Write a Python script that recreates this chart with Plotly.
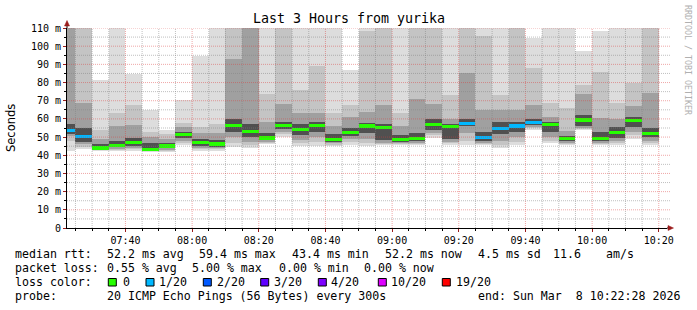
import plotly.graph_objects as go
import pandas as pd

# ---------------- data ----------------
bar_start = pd.date_range('2026-03-08 07:20:00', periods=36, freq='5min')

rtt_max = [125, 125, 81.4, 125, 84.7, 64.9, 53.9, 70.4, 94.8, 125, 125, 125, 125, 125, 125, 125, 125, 87,
           125, 125, 125, 125, 125, 125, 125, 125, 125, 125, 104.3, 125, 125, 97.4, 108.4, 125, 125, 125]
rtt_hi = [125, 125, 54, 63.4, 67.6, 53, 51.5, 58, 55.4, 57, 125, 125, 73.7, 125, 76, 89.3, 63, 67.6,
          108.4, 125, 63, 125, 125, 73, 125, 105.6, 73, 125, 87.8, 68.6, 66, 78.6, 86, 68.5, 80, 125]
rtt_q3 = [112, 68.6, 49, 56, 56.6, 50, 49, 55.5, 52, 52, 93, 118, 58.5, 68, 63, 63, 56, 61,
          64, 67.6, 56, 70.8, 68, 60, 85.4, 65, 65, 65, 67.6, 61, 53.5, 73.7, 60.3, 60, 67, 74.4]
rtt_c3 = [57, 55, 46, 48, 49.5, 46.5, 47, 53, 49, 48.5, 60, 57, 52, 58.5, 57, 58.5, 51.5, 55,
          58, 57, 51, 52, 60, 57, 60, 53, 58.5, 58.5, 60, 58.5, 50.5, 62, 53, 55.5, 61, 55]
rtt_median = [53.4, 50.2, 44.0, 45.3, 46.9, 43.4, 45.1, 51.4, 46.9, 46.2, 56.2, 52.9, 49.5, 56.5, 54.0, 56.3, 48.7, 52.4,
              56.1, 55.3, 48.8, 49.1, 56.8, 55.8, 57.7, 49.8, 54.8, 56.1, 58.1, 57.0, 49.0, 59.4, 49.4, 52.6, 59.2, 52.2]
rtt_c1 = [51.5, 47.5, 43.6, 44.3, 45.2, 43, 43.8, 49.5, 45.2, 44.8, 53, 50, 48.3, 54.5, 51, 53, 47.5, 50.5,
          52, 48.5, 47.5, 47.8, 54, 49, 56, 48, 51.5, 53, 56.8, 53, 47.8, 56, 47.8, 49.5, 55.5, 50]
rtt_q1 = [50.5, 46, 43.2, 43.7, 44.2, 42.7, 43, 48, 44, 43.8, 50, 47.5, 47.5, 53, 48.5, 50, 46.5, 49,
          49, 47, 46.8, 47, 52.5, 47.5, 52, 47, 48, 50, 55.8, 50, 47, 55, 47, 48, 53, 48]
rtt_lo = [48, 44.5, 42.9, 43.1, 43.3, 42.3, 42.3, 46.5, 43.2, 43.2, 47, 45.5, 46.8, 51.5, 46.5, 47.5, 45.8, 47.5,
          47, 46.2, 46.2, 46.3, 51, 46.5, 48, 46.2, 45.5, 47.5, 54.8, 48, 46.3, 54.5, 46.3, 46.5, 51, 46.5]
rtt_min = [42.5, 43.3, 42.5, 42.5, 42.5, 42, 41.8, 45.5, 42.5, 42.5, 44.7, 43.8, 46.2, 50.2, 45.1, 45.1, 45.1, 45.5,
           45, 45.6, 45.6, 45.6, 49.5, 45.6, 45.6, 45.6, 43.8, 45.6, 53.9, 46.6, 45.6, 53.9, 45.6, 45.6, 49, 45.6]
loss_count = [1, 1, 0, 0, 0, 0, 0, 0, 0, 0, 0, 0, 0, 0, 0, 0, 0, 0,
              0, 0, 0, 0, 0, 0, 1, 1, 1, 1, 1, 0, 0, 0, 0, 0, 0, 0]

loss_levels = ['0', '1/20', '2/20', '3/20', '4/20', '10/20', '19/20']
loss_level_counts = [0, 1, 2, 3, 4, 10, 19]
loss_level_colors = ['#26ff00', '#00b8ff', '#0059ff', '#5e00ff', '#7e00ff', '#dd00ff', '#ff0000']

title_text = 'Last 3 Hours from yurika'
y_tick_vals = [0, 10, 20, 30, 40, 50, 60, 70, 80, 90, 100, 110]
y_tick_text = ['0', '10 m', '20 m', '30 m', '40 m', '50 m', '60 m', '70 m', '80 m', '90 m', '100 m', '110 m']

stats_rtt = ['52.2 ms avg', '59.4 ms max', '43.4 ms min', '52.2 ms now', '4.5 ms sd', '11.6', 'am/s']
stats_loss = ['0.55 % avg', '5.00 % max', '0.00 % min', '0.00 % now']
probe_text = '20 ICMP Echo Pings (56 Bytes) every 300s'
end_text = 'end: Sun Mar  8 10:22:28 2026'

# ---------------- geometry helpers ----------------
W, H = 697, 310
PL, PR, PT, PB = 67, 667, 28, 228


def px(x):
    return (x - PL) / (PR - PL)


def py(y):
    return (PB - y) / (PB - PT)


MONO = 'DejaVu Sans Mono'
STEP_MS = 300000
centers = bar_start + pd.Timedelta(seconds=150)

fig = go.Figure()


def band(lo, hi, color):
    fig.add_trace(go.Bar(x=centers, base=lo, y=[h - l for h, l in zip(hi, lo)], width=STEP_MS,
                         marker=dict(color=color, line=dict(width=0)), hoverinfo='skip', showlegend=False))


band(rtt_min, rtt_max, '#dddddd')
band(rtt_lo, rtt_hi, '#c4c4c4')
band(rtt_q1, rtt_q3, '#a0a0a0')
band(rtt_c1, rtt_c3, '#505050')

# median coloured by loss
MED_THICK = 1.7
cmap = dict(zip(loss_level_counts, loss_level_colors))
fig.add_trace(go.Bar(x=centers, base=[m - MED_THICK / 2 for m in rtt_median], y=[MED_THICK] * len(rtt_median),
                     width=STEP_MS, marker=dict(color=[cmap[c] for c in loss_count], line=dict(width=0)),
                     hoverinfo='skip', showlegend=False))

shapes = []
# grid above the smoke
GRID_MINOR = 'rgba(128,128,128,0.5)'
GRID_MAJOR = 'rgba(220,60,60,0.45)'
for t in pd.date_range('2026-03-08 07:25:00', '2026-03-08 10:20:00', freq='5min'):
    col = GRID_MAJOR if t.minute % 20 == 0 else GRID_MINOR
    shapes.append(dict(type='line', xref='x', yref='paper', x0=t, x1=t, y0=0, y1=1, layer='above',
                       line=dict(color=col, width=1, dash='1px,1px')))
for v in range(5, 111, 5):
    col = GRID_MAJOR if v % 10 == 0 else GRID_MINOR
    shapes.append(dict(type='line', xref='paper', yref='y', x0=0, x1=px(670), y0=v, y1=v, layer='above',
                       line=dict(color=col, width=1, dash='1px,1px')))

# axis extensions and arrows
ARROW = '#9b1c1c'
shapes.append(dict(type='line', xref='paper', yref='paper', x0=0, x1=0, y0=1, y1=py(24), line=dict(color='black', width=1)))
shapes.append(dict(type='line', xref='paper', yref='paper', x0=1, x1=px(669), y0=0, y1=0, line=dict(color='black', width=1)))
shapes.append(dict(type='path', xref='paper', yref='paper',
                   path=f'M {px(64.5)} {py(26)} L {px(69.5)} {py(26)} L {px(67)} {py(20.5)} Z',
                   fillcolor=ARROW, line=dict(color=ARROW, width=0.5)))
shapes.append(dict(type='path', xref='paper', yref='paper',
                   path=f'M {px(668)} {py(225.5)} L {px(668)} {py(230.5)} L {px(673.5)} {py(228)} Z',
                   fillcolor=ARROW, line=dict(color=ARROW, width=0.5)))

annotations = []


def text(x, y, s, size=11.6, anchor='left', family=MONO, color='black', angle=0):
    annotations.append(dict(x=px(x), y=py(y), xref='paper', yref='paper', text=s, showarrow=False,
                            xanchor=anchor, yanchor='middle', borderpad=0, borderwidth=0, textangle=angle,
                            font=dict(family=family, size=size, color=color)))


text(348.5, 18.5, title_text, size=13.3, anchor='center')
text(11, 128, 'Seconds', size=11.5, anchor='center', family='DejaVu Sans', angle=-90)
text(688, 60, 'RRDTOOL / TOBI OETIKER', size=8.3, anchor='center', color='#b0b0b0', angle=90)

ROW_Y = [253.5, 267.5, 281.5, 295.5]
text(15.3, ROW_Y[0], 'median rtt:')
for xx, s in zip([106.6, 199.3, 291.6, 385.3, 477.6, 552.6, 606], stats_rtt):
    text(xx, ROW_Y[0], s)
text(15.3, ROW_Y[1], 'packet loss:')
for xx, s in zip([106.6, 192, 278.6, 364.3], stats_loss):
    text(xx, ROW_Y[1], s)
text(15.3, ROW_Y[2], 'loss color:')
box_x = [108.3, 146, 203.3, 260.7, 318.3, 378.3, 442.3]
lab_x = [123.3, 160, 217.3, 275, 331.7, 391.7, 456.7]
for bx, lx, lab, col in zip(box_x, lab_x, loss_levels, loss_level_colors):
    shapes.append(dict(type='rect', xref='paper', yref='paper', x0=px(bx), x1=px(bx + 8), y0=py(278.5), y1=py(286),
                       fillcolor=col, line=dict(color='black', width=1)))
    text(lx - 0.7, ROW_Y[2], lab)
text(15.3, ROW_Y[3], 'probe:')
text(106.6, ROW_Y[3], probe_text)
text(477.6, ROW_Y[3], end_text)

fig.update_layout(
    width=W, height=H,
    margin=dict(l=PL, r=W - PR, t=PT, b=H - PB, pad=0),
    paper_bgcolor='white', plot_bgcolor='white',
    barmode='overlay', bargap=0, showlegend=False,
    font=dict(family=MONO, size=10, color='black'),
    shapes=shapes, annotations=annotations,
    xaxis=dict(type='date', range=['2026-03-08 07:22:28', '2026-03-08 10:22:28'],
               tickmode='linear', tick0='2026-03-08 07:40:00', dtick=1200000, tickformat='%H:%M',
               ticks='outside', ticklen=3, tickcolor='#9b1c1c', showline=True, linecolor='black', linewidth=1,
               showgrid=False, zeroline=False, tickfont=dict(family=MONO, size=10, color='black'),
               minor=dict(tick0='2026-03-08 07:25:00', dtick=300000, ticks='outside', ticklen=2,
                          tickcolor='black', showgrid=False)),
    yaxis=dict(range=[0, 110], tickmode='array', tickvals=y_tick_vals, ticktext=y_tick_text,
               ticks='outside', ticklen=3, tickcolor='#9b1c1c', showline=True, linecolor='black', linewidth=1,
               showgrid=False, zeroline=False, tickfont=dict(family=MONO, size=10, color='black'),
               minor=dict(dtick=5, ticks='outside', ticklen=2, tickcolor='black', showgrid=False)),
)

fig.write_html('out.html')
